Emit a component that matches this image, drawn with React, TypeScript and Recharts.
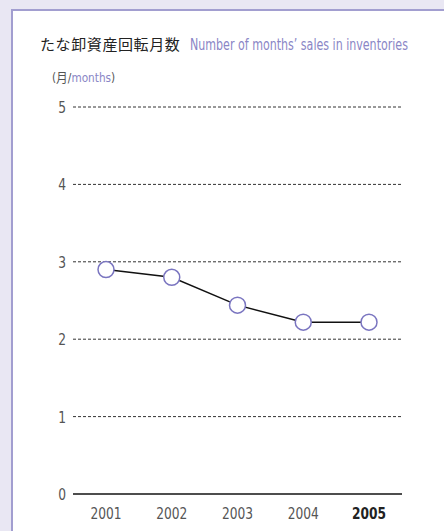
import React from 'react';
import { LineChart, Line, XAxis, YAxis, CartesianGrid } from 'recharts';

// 年度と在庫回転月数
const years = ['2001', '2002', '2003', '2004', '2005'];
const months = [2.9, 2.8, 2.44, 2.22, 2.22];
const yTicks = [0, 1, 2, 3, 4, 5];

const data = years.map((year, i) => ({ year, value: months[i] }));

const PURPLE = '#8a86c6';
const FONT = '"Liberation Sans Narrow", "DejaVu Sans Condensed", sans-serif';
const JP_FONT = '"Noto Sans CJK JP", sans-serif';

// 細長い書体の代わりに横方向を縮める
const XTick = ({ x, y, payload }: any) => {
  const last = payload.value === years[years.length - 1];
  return (
    <text
      transform={`translate(${x},${y + 17}) scale(0.85,1)`}
      textAnchor="middle"
      fontFamily={FONT}
      fontSize={16}
      fontWeight={last ? 'bold' : 'normal'}
      fill={last ? '#222' : '#555'}
    >
      {payload.value}
    </text>
  );
};

const YTick = ({ x, y, payload }: any) => (
  <text
    transform={`translate(${x + 1},${y + 6}) scale(0.85,1)`}
    textAnchor="end"
    fontFamily={FONT}
    fontSize={16}
    fill="#555"
  >
    {payload.value}
  </text>
);

const App: React.FC = () => {
  return (
    <div
      style={{
        position: 'fixed',
        left: 0,
        top: 0,
        width: 444,
        height: 531,
        background: '#e9e7f3',
        overflow: 'hidden',
      }}
    >
      <div
        style={{
          position: 'absolute',
          left: 11,
          top: 9,
          width: 500,
          height: 600,
          background: '#fff',
          borderLeft: '2px solid #a29ed0',
          borderTop: '2px solid #a29ed0',
        }}
      />
      <div
        style={{
          position: 'absolute',
          left: 40,
          top: 33,
          whiteSpace: 'nowrap',
          display: 'flex',
          alignItems: 'baseline',
        }}
      >
        <span style={{ fontFamily: JP_FONT, fontSize: 15, color: '#222', letterSpacing: 0.6 }}>
          たな卸資産回転月数
        </span>
        <span
          style={{
            fontFamily: FONT,
            fontSize: 15,
            color: PURPLE,
            marginLeft: 10,
            display: 'inline-block',
            transform: 'scaleX(0.82)',
            transformOrigin: 'left',
          }}
        >
          Number of months’ sales in inventories
        </span>
      </div>
      <div
        style={{
          position: 'absolute',
          left: 52,
          top: 67,
          whiteSpace: 'nowrap',
          fontFamily: FONT,
          fontSize: 13,
          color: '#555',
          transform: 'scaleX(0.9)',
          transformOrigin: 'left',
        }}
      >
        (<span style={{ fontFamily: JP_FONT, fontSize: 13 }}>月</span>/
        <span style={{ color: PURPLE }}>months</span>)
      </div>
      <div style={{ position: 'absolute', left: 0, top: 0 }}>
        <LineChart width={444} height={531} data={data} margin={{ top: 107, right: 42, bottom: 7, left: 0 }}>
          <CartesianGrid vertical={false} stroke="#333" strokeDasharray="3 2" />
          <XAxis
            dataKey="year"
            height={30}
            padding={{ left: 33, right: 33 }}
            axisLine={{ stroke: '#4d4d4d', strokeWidth: 2 }}
            tickLine={false}
            tick={<XTick />}
            interval={0}
          />
          <YAxis
            width={73}
            domain={[0, 5]}
            ticks={yTicks}
            axisLine={false}
            tickLine={false}
            tick={<YTick />}
          />
          <Line
            dataKey="value"
            stroke="#111"
            strokeWidth={1.5}
            dot={{ r: 8, fill: '#fff', stroke: '#7a75c0', strokeWidth: 1.5 }}
            isAnimationActive={false}
          />
        </LineChart>
      </div>
    </div>
  );
};

export default App;
